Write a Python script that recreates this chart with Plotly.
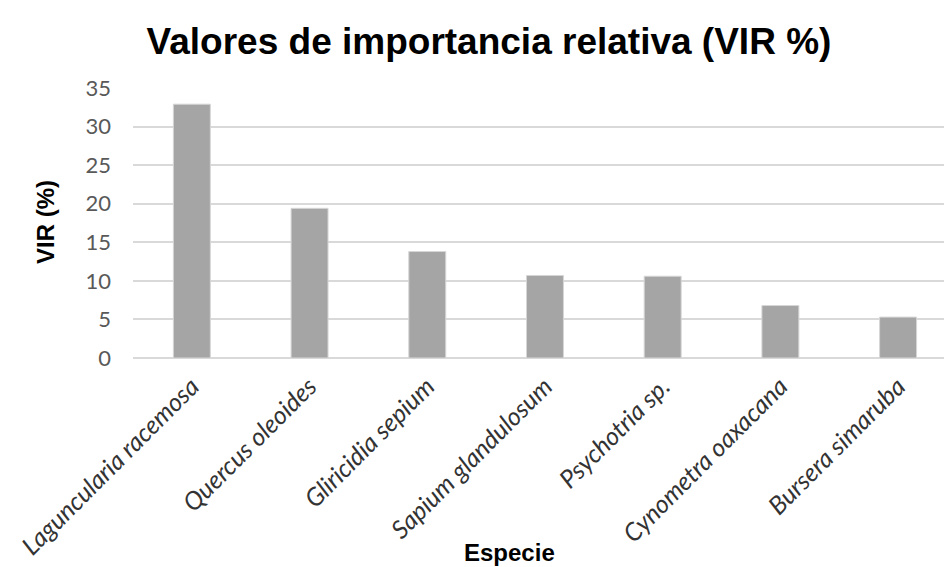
import plotly.graph_objects as go

especies = ["Laguncularia racemosa", "Quercus oleoides", "Gliricidia sepium",
            "Sapium glandulosum", "Psychotria sp.", "Cynometra oaxacana",
            "Bursera simaruba"]
vir = [32.9, 19.4, 13.8, 10.7, 10.6, 6.8, 5.3]
y_ticks = [0, 5, 10, 15, 20, 25, 30, 35]

W, H = 944, 567
L, R, T, B = 133, 0, 88, 209
pw, ph = W - L - R, H - T - B

def px(x):
    return (x - L) / pw

def py(y):
    return (H - B - y) / ph

fig = go.Figure()
fig.add_trace(go.Bar(
    x=list(range(len(especies))), y=vir, width=0.314,
    marker=dict(color="#A5A5A5", line=dict(color="#D6D6D6", width=1)),
))

fig.update_layout(
    width=W, height=H,
    margin=dict(l=L, r=R, t=T, b=B),
    paper_bgcolor="white", plot_bgcolor="white",
    showlegend=False,
    title=dict(text="<b>Valores de importancia relativa (VIR %)</b>",
               x=489 / W, xanchor="center", y=1 - 41 / H, yanchor="middle",
               font=dict(family="Liberation Sans, Arial", size=37, color="black")),
    xaxis=dict(
        range=[-0.5, 6.39], tickmode="array",
        tickvals=list(range(len(especies))), ticktext=especies,
        tickangle=-45, showgrid=False, zeroline=False, showline=False,
        ticks="", ticklabelstandoff=8,
        tickfont=dict(family="Lato", size=25, color="#333333", style="italic"),
    ),
    yaxis=dict(
        range=[0, 35], tickvals=y_ticks, showgrid=True, gridcolor="#D9D9D9",
        gridwidth=1.5, zeroline=True, zerolinecolor="#D9D9D9", zerolinewidth=1.5,
        showline=False, ticks="", ticklabelstandoff=21,
        tickfont=dict(family="Lato", size=22, color="#595959"),
    ),
    annotations=[
        dict(text="<b>Especie</b>", x=px(509), y=py(552), xref="paper", yref="paper",
             xanchor="center", yanchor="middle", showarrow=False,
             font=dict(family="Liberation Sans, Arial", size=24, color="black")),
        dict(text="<b>VIR (%)</b>", x=px(45), y=py(222), xref="paper", yref="paper",
             xanchor="center", yanchor="middle", showarrow=False, textangle=-90,
             font=dict(family="Liberation Sans, Arial", size=24, color="black")),
    ],
)

fig.write_html("out.html")
